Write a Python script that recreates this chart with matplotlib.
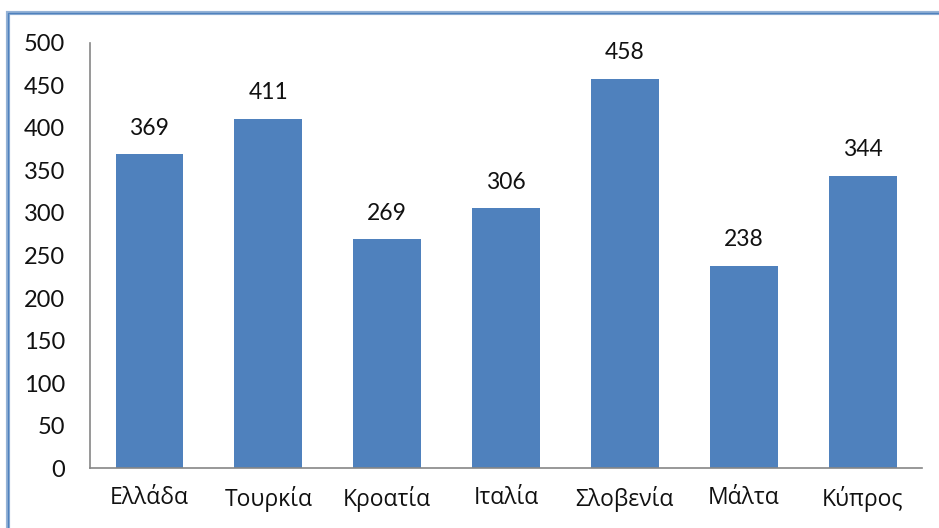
import matplotlib
matplotlib.use("Agg")
import matplotlib.pyplot as plt
from matplotlib.patches import Rectangle

# ο πίνακας με τις τιμές ανά χώρα
countries = ["Ελλάδα", "Τουρκία", "Κροατία", "Ιταλία", "Σλοβενία", "Μάλτα", "Κύπρος"]
values = [369, 411, 269, 306, 458, 238, 344]
yticks = [0, 50, 100, 150, 200, 250, 300, 350, 400, 450, 500]

plt.rcParams['font.family'] = ['Lato', 'Open Sans', 'DejaVu Sans']

fig = plt.figure(figsize=(9.39, 5.28), dpi=100)
ax = fig.add_axes([0.0958, 0.1136, 0.8862, 0.805])

x = range(len(countries))
ax.bar(x, values, width=0.57, color="#4F81BD", zorder=2)

# τιμή πάνω από κάθε μπάρα
for i, v in zip(x, values):
    ax.text(i, v + 18, str(v), ha="center", va="bottom", fontsize=16.5,
            color="#111111")

ax.set_xlim(-0.5, len(countries) - 0.5)
ax.set_ylim(0, 500)
ax.set_yticks(yticks)
ax.set_xticks(list(x))
ax.set_xticklabels(countries, family=['Open Sans', 'DejaVu Sans'], fontsize=16.5)
ax.tick_params(axis="both", length=0, labelcolor="#111111")
ax.tick_params(axis="y", pad=18, labelsize=17)
ax.tick_params(axis="x", pad=13)

for s in ["top", "right"]:
    ax.spines[s].set_visible(False)
for s in ["left", "bottom"]:
    ax.spines[s].set_color("#868686")
    ax.spines[s].set_linewidth(1.2)

# πλαίσιο γύρω από το γράφημα
fig.patches.append(Rectangle((8 / 939, -0.1), 1.2, 1.1 - 13 / 528,
                             transform=fig.transFigure, fill=False,
                             edgecolor="#95B3D7", linewidth=3))
fig.patches.append(Rectangle((8 / 939, -0.1), 1.2, 1.1 - 13 / 528,
                             transform=fig.transFigure, fill=False,
                             edgecolor="#4F81BD", linewidth=1))

fig.savefig("out.png", dpi=100)
